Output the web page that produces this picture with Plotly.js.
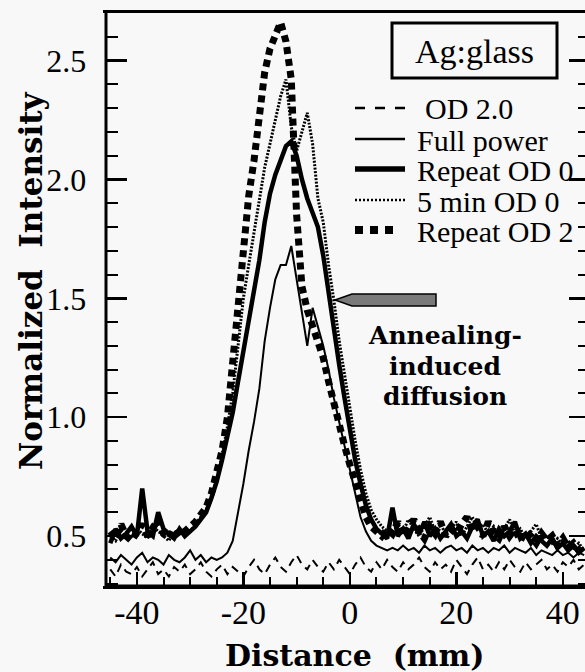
<!DOCTYPE html>
<html>
<head>
<meta charset="utf-8">
<script src="https://cdn.plot.ly/plotly-3.0.1.min.js"></script>
<style>
html,body{margin:0;padding:0;overflow:hidden;background:#f8f8f8;}
#chart{width:592px;height:672px;}
</style>
</head>
<body>
<div id="chart"></div>
<script>
// ---- data ----
var distance = [];
for (var d = -45; d <= 44; d++) distance.push(d);

var od20 = [0.36,0.33,0.38,0.35,0.34,0.37,0.33,0.36,0.39,0.34,0.36,0.33,0.37,0.35,0.38,0.34,0.36,0.39,0.35,0.33,
            0.36,0.38,0.34,0.37,0.35,0.33,0.37,0.40,0.36,0.34,0.38,0.41,0.37,0.35,0.39,0.42,0.38,0.36,0.40,0.37,
            0.35,0.39,0.36,0.40,0.37,0.34,0.38,0.41,0.37,0.35,0.39,0.36,0.40,0.37,0.35,0.39,0.36,0.38,0.41,0.37,
            0.35,0.39,0.36,0.38,0.35,0.40,0.37,0.34,0.38,0.41,0.36,0.38,0.35,0.39,0.36,0.40,0.37,0.35,0.39,0.36,
            0.38,0.40,0.36,0.38,0.35,0.39,0.37,0.40,0.36,0.38];

var fullPower = [0.41,0.39,0.42,0.40,0.38,0.41,0.43,0.39,0.41,0.40,0.38,0.42,0.40,0.39,0.41,0.44,0.40,0.42,0.39,0.41,
                 0.40,0.41,0.43,0.48,0.60,0.72,0.86,0.98,1.12,1.32,1.46,1.58,1.64,1.64,1.72,1.58,1.45,1.30,1.46,1.38,
                 1.30,1.20,1.08,0.98,0.88,0.78,0.68,0.58,0.52,0.48,0.46,0.45,0.44,0.45,0.44,0.46,0.44,0.45,0.43,0.46,
                 0.44,0.45,0.43,0.45,0.46,0.44,0.45,0.43,0.46,0.44,0.45,0.43,0.45,0.44,0.46,0.43,0.45,0.44,0.43,0.45,
                 0.42,0.44,0.43,0.42,0.44,0.42,0.43,0.41,0.43,0.42];

var repeatOD0 = [0.47,0.53,0.49,0.51,0.54,0.50,0.70,0.52,0.50,0.60,0.53,0.51,0.49,0.53,0.50,0.52,0.54,0.57,0.60,0.66,
                 0.73,0.82,0.92,1.02,1.15,1.28,1.40,1.52,1.66,1.82,1.94,2.02,2.08,2.14,2.16,2.10,2.00,1.92,1.86,1.80,
                 1.68,1.52,1.38,1.22,1.08,0.95,0.82,0.72,0.63,0.57,0.53,0.51,0.49,0.62,0.50,0.53,0.49,0.55,0.51,0.56,
                 0.50,0.53,0.49,0.52,0.55,0.50,0.52,0.49,0.54,0.57,0.50,0.52,0.48,0.53,0.50,0.52,0.56,0.49,0.51,0.47,
                 0.50,0.48,0.46,0.49,0.45,0.47,0.44,0.46,0.43,0.45];

var fiveMinOD0 = [0.50,0.48,0.52,0.49,0.50,0.53,0.51,0.49,0.54,0.52,0.50,0.48,0.52,0.51,0.53,0.52,0.55,0.58,0.61,0.67,
                  0.74,0.84,0.96,1.10,1.30,1.50,1.64,1.78,1.92,2.05,2.15,2.25,2.35,2.42,2.22,2.12,2.20,2.28,2.15,1.92,
                  1.82,1.64,1.49,1.32,1.18,1.04,0.90,0.78,0.68,0.61,0.57,0.54,0.52,0.50,0.55,0.52,0.57,0.53,0.50,0.54,
                  0.58,0.52,0.55,0.51,0.53,0.56,0.50,0.54,0.58,0.53,0.55,0.51,0.54,0.50,0.53,0.57,0.51,0.53,0.49,0.52,
                  0.55,0.49,0.50,0.47,0.49,0.46,0.48,0.45,0.47,0.44];

var repeatOD2 = [0.52,0.49,0.55,0.50,0.48,0.52,0.55,0.50,0.53,0.57,0.51,0.49,0.53,0.50,0.52,0.54,0.56,0.59,0.62,0.68,
                 0.76,0.86,1.00,1.22,1.50,1.72,1.93,2.08,2.30,2.45,2.55,2.61,2.66,2.58,2.42,1.85,1.55,1.45,1.38,1.32,
                 1.25,1.15,1.05,0.97,0.88,0.80,0.72,0.64,0.58,0.54,0.52,0.50,0.53,0.51,0.56,0.50,0.53,0.57,0.52,0.49,
                 0.54,0.51,0.56,0.50,0.53,0.51,0.55,0.58,0.52,0.54,0.50,0.56,0.51,0.49,0.54,0.50,0.53,0.48,0.52,0.50,
                 0.47,0.51,0.48,0.50,0.46,0.49,0.45,0.47,0.44,0.46];

var seriesNames = ["OD 2.0", "Full power", "Repeat OD 0", "5 min OD 0", "Repeat OD 2"];
var xTickVals = [-40, -20, 0, 20, 40];
var yTickVals = [0.5, 1.0, 1.5, 2.0, 2.5];
var xTitle = "Distance\u00a0\u00a0(mm)";
var yTitle = "Normalized\u00a0\u00a0Intensity";
var boxLabel = "Ag:glass";
var noteLines = ["Annealing-", "induced", "diffusion"];

// ---- layout helpers (pixel -> paper) ----
var L = 106, R = 590, T = 13, B = 586;
function px(X){ return (X - L) / (R - L); }
function py(Y){ return (B - Y) / (B - T); }

var styles = [
  {width: 2,   dash: "8px,6px"},
  {width: 2,   dash: "solid"},
  {width: 4.5, dash: "solid"},
  {width: 3,   dash: "2px,1.5px"},
  {width: 7,   dash: "7px,5px"}
];
var values = [od20, fullPower, repeatOD0, fiveMinOD0, repeatOD2];
var traces = values.map(function(v, i){
  return {x: distance, y: v, type: "scatter", mode: "lines", name: seriesNames[i],
          line: {color: "#000", width: styles[i].width, dash: styles[i].dash}};
});

var serif = "Liberation Serif, Times New Roman, serif";
var boldSerif = "DejaVu Serif, serif";

var shapes = [], annotations = [];
// left and bottom axis lines (right one lies outside the picture)
shapes.push({type: "line", xref: "paper", yref: "paper", x0: 0, x1: 0, y0: 0, y1: 1,
             line: {color: "#000", width: 3}});
shapes.push({type: "line", xref: "paper", yref: "paper", x0: 0, x1: 1, y0: 0, y1: 0,
             line: {color: "#000", width: 3}});
// legend box
shapes.push({type: "rect", xref: "paper", yref: "paper", x0: px(392), x1: px(557), y0: py(78), y1: py(23),
             line: {color: "#000", width: 3}, fillcolor: "rgba(0,0,0,0)"});
annotations.push({xref: "paper", yref: "paper", x: px(474), y: py(51), text: boxLabel, showarrow: false,
                  xanchor: "center", yanchor: "middle", font: {family: serif, size: 34, color: "#000"}});
// legend entries
var rowY = [108, 139, 169, 200, 230];
var legStyles = [
  {width: 2.5, dash: "10px,10px"},
  {width: 2.5, dash: "solid"},
  {width: 5.5, dash: "solid"},
  {width: 2.5, dash: "2px,2px"},
  {width: 8,   dash: "8px,7px"}
];
var legEnd = [405, 405, 405, 405, 393];
var textX = [423, 415, 415, 415, 415];
seriesNames.forEach(function(n, i){
  shapes.push({type: "line", xref: "paper", yref: "paper", x0: px(355), x1: px(legEnd[i]), y0: py(rowY[i]), y1: py(rowY[i]),
               line: {color: "#000", width: legStyles[i].width, dash: legStyles[i].dash}});
  annotations.push({xref: "paper", yref: "paper", x: px(textX[i]), y: py(rowY[i] + 1), text: n, showarrow: false,
                    xanchor: "left", yanchor: "middle", font: {family: serif, size: 30, color: "#000"}});
});
// arrow
shapes.push({type: "path", xref: "paper", yref: "paper",
  path: "M " + px(335) + "," + py(300) + " L " + px(352) + "," + py(294) + " L " + px(436) + "," + py(294) +
        " L " + px(436) + "," + py(306) + " L " + px(352) + "," + py(306) + " Z",
  fillcolor: "#7a7a7a", line: {color: "#000", width: 1.5}});
// note text
var noteY = [336, 366, 396];
noteLines.forEach(function(t, i){
  annotations.push({xref: "paper", yref: "paper", x: px(445), y: py(noteY[i]), text: t, showarrow: false,
                    xanchor: "center", yanchor: "middle",
                    font: {family: boldSerif, size: 25, color: "#000", weight: "bold"}});
});
// axis titles
annotations.push({xref: "paper", yref: "paper", x: px(355), y: py(655), text: xTitle, showarrow: false,
                  xanchor: "center", yanchor: "middle",
                  font: {family: boldSerif, size: 30, color: "#000", weight: "bold"}});
annotations.push({xref: "paper", yref: "paper", x: px(31), y: py(281), text: yTitle, showarrow: false,
                  textangle: -90, xanchor: "center", yanchor: "middle",
                  font: {family: boldSerif, size: 31, color: "#000", weight: "bold"}});

var layout = {
  width: 592, height: 672,
  margin: {l: L, r: 592 - R, t: T, b: 672 - B},
  paper_bgcolor: "#f8f8f8", plot_bgcolor: "#f8f8f8",
  showlegend: false,
  xaxis: {
    range: [-45.8, 45.1], tickvals: xTickVals, ticktext: xTickVals.map(String),
    ticks: "inside", ticklen: 14, tickwidth: 2.5, tickcolor: "#000",
    minor: {dtick: 5, tick0: 0, ticks: "inside", ticklen: 9, tickwidth: 2, tickcolor: "#000"},
    showline: true, linewidth: 3, linecolor: "#000", mirror: true,
    showgrid: false, zeroline: false,
    tickfont: {family: serif, size: 34, color: "#000"},
    ticklabelstandoff: -6
  },
  yaxis: {
    range: [0.29, 2.70], tickvals: yTickVals,
    ticktext: yTickVals.map(function(v){return v.toFixed(1) + "\u2009";}),
    ticks: "inside", ticklen: 21, tickwidth: 2.5, tickcolor: "#000",
    minor: {dtick: 0.1, tick0: 0, ticks: "inside", ticklen: 12, tickwidth: 2, tickcolor: "#000"},
    showline: true, linewidth: 3, linecolor: "rgba(0,0,0,0)", mirror: "ticks",
    showgrid: false, zeroline: false,
    tickfont: {family: serif, size: 32, color: "#000"},
    ticklabelstandoff: 4
  },
  shapes: shapes,
  annotations: annotations
};

Plotly.newPlot("chart", traces, layout, {displayModeBar: false, staticPlot: true});
</script>
</body>
</html>
